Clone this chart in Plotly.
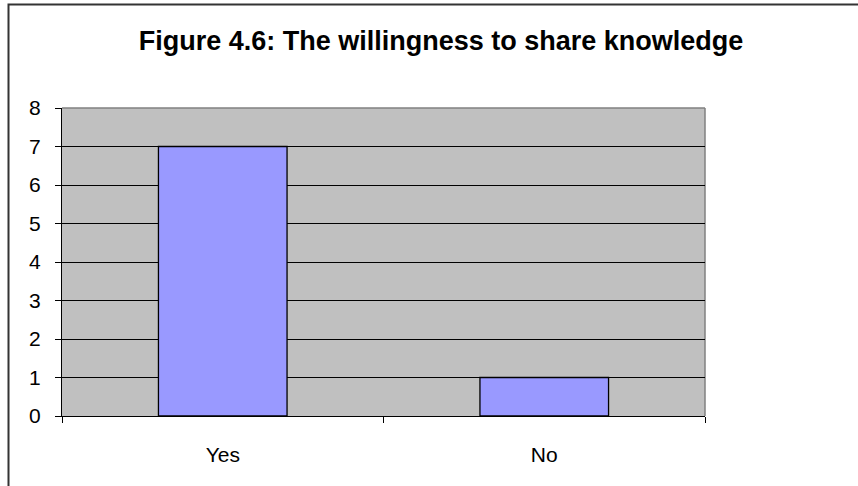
import plotly.graph_objects as go

categories = ["Yes", "No"]
values = [7, 1]
y_ticks = [0, 1, 2, 3, 4, 5, 6, 7, 8]
title_text = "Figure 4.6: The willingness to share knowledge"

W, H = 858, 486
L, R, T, B = 62, 705, 108, 416
pw, ph = R - L, B - T

fig = go.Figure()
fig.add_trace(go.Bar(
    x=categories, y=values,
    marker=dict(color="#9999FF", line=dict(color="#000000", width=1.3)),
    width=0.4,
))

def px2x(px):
    return (px - L) / pw

def px2y(py):
    return (B - py) / ph

shapes = [
    dict(type="rect", xref="paper", yref="paper",
         x0=px2x(8.5), x1=px2x(870), y0=px2y(500), y1=px2y(4.5),
         line=dict(color="#333333", width=2), fillcolor="rgba(0,0,0,0)", layer="above"),
    dict(type="line", xref="paper", yref="paper", x0=0, x1=1, y0=1, y1=1,
         line=dict(color="#808080", width=1.5), layer="below"),
    dict(type="line", xref="paper", yref="paper", x0=1, x1=1, y0=0, y1=1,
         line=dict(color="#808080", width=1.5), layer="below"),
]

fig.update_layout(
    width=W, height=H,
    margin=dict(l=L, r=W - R, t=T, b=H - B, pad=0),
    paper_bgcolor="white",
    plot_bgcolor="#C0C0C0",
    showlegend=False,
    shapes=shapes,
    title=dict(text="<b>" + title_text + "</b>", x=441 / W, xanchor="center",
               y=1 - 41 / H, yanchor="middle",
               font=dict(family="Liberation Sans, Arial", size=27, color="black")),
    font=dict(family="Liberation Sans, Arial", size=21, color="black"),
    bargap=0.6,
)

fig.update_xaxes(
    type="category",
    tickson="boundaries",
    ticks="outside", ticklen=6, tickcolor="black", tickwidth=1,
    showline=True, linecolor="black", linewidth=1.3,
    showgrid=False,
    ticklabelstandoff=20,
    tickfont=dict(size=21),
)
fig.update_yaxes(
    range=[0, 8],
    tickvals=y_ticks,
    ticks="outside", ticklen=6, tickcolor="black", tickwidth=1,
    showline=True, linecolor="black", linewidth=1.3,
    showgrid=True, gridcolor="black", gridwidth=1,
    zeroline=False,
    ticklabelstandoff=10,
    tickfont=dict(size=21),
)

fig.write_html("out.html")
